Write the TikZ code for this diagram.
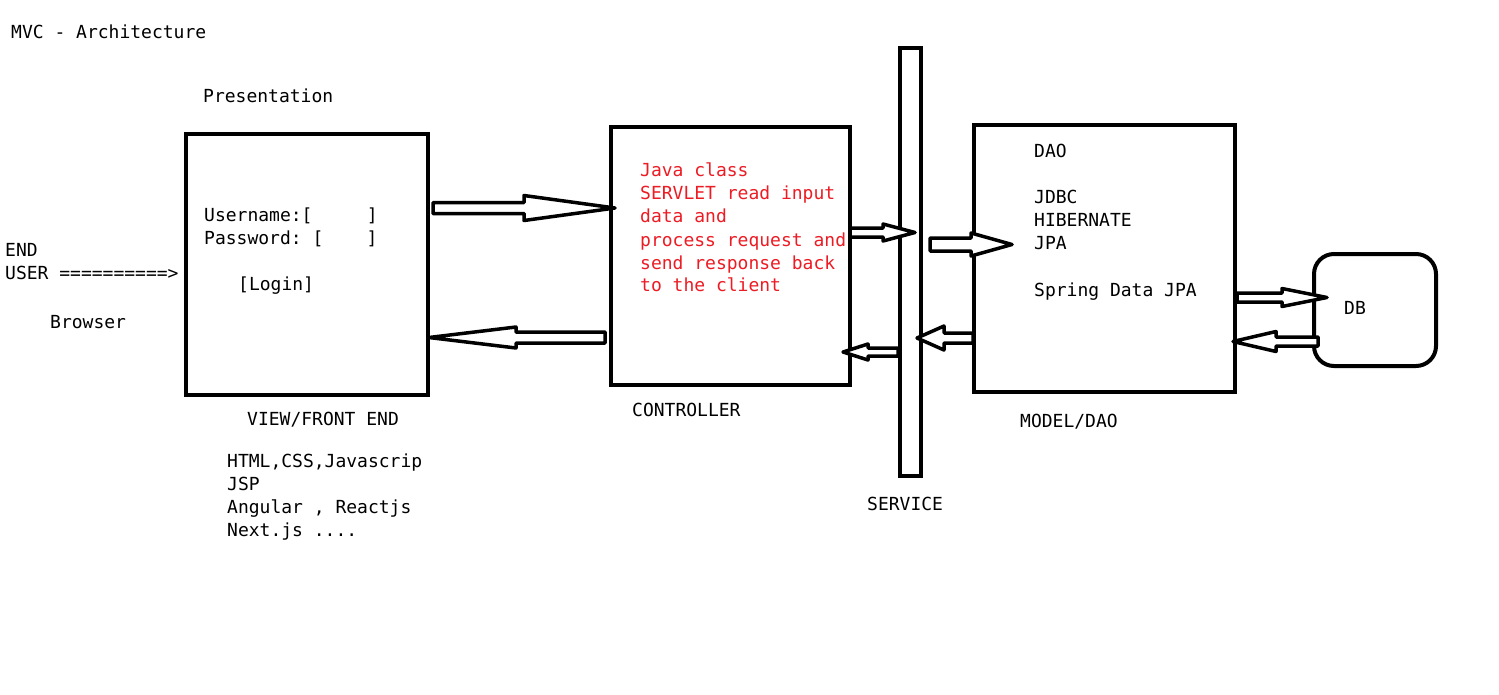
\documentclass[tikz,border=0pt]{standalone}
\usepackage{fontspec}
\setmonofont{DejaVu Sans Mono}
\usetikzlibrary{calc}
\definecolor{paintred}{RGB}{237,28,36}
\tikzset{
  box/.style={draw=black, line width=4pt, inner sep=0pt},
  lbl/.style={anchor=base west, inner sep=0pt, font=\fontsize{18}{23}\selectfont\ttfamily},
  redlbl/.style={lbl, text=paintred},
  blockarrow/.style={draw=black, line width=3.5pt, line join=round, fill=white},
}
\newcommand{\hollowarrow}[5]{%
  \draw[blockarrow] let \p1=(#1), \p2=(#2), \n1={sign(\x2-\x1)*#5} in
    ({\x1},{\y1+#3*1pt}) -- ({\x2-\n1*1pt},{\y1+#3*1pt}) -- ({\x2-\n1*1pt},{\y1+#4*1pt})
    -- ({\x2},{\y2}) -- ({\x2-\n1*1pt},{\y1-#4*1pt}) -- ({\x2-\n1*1pt},{\y1-#3*1pt})
    -- ({\x1},{\y1-#3*1pt}) -- cycle;}
\begin{document}
\begin{tikzpicture}[x=1pt,y=-1pt]
\useasboundingbox[fill=white] (0,0) rectangle (1499,694);

% boxes
\node[box, minimum width=242.5pt, minimum height=260.5pt] (view) at (306.75,264.25) {};
\node[box, minimum width=239.5pt, minimum height=258pt] (ctrl) at (730.25,256) {};
\node[box, minimum width=21pt, minimum height=428pt] (service) at (910,261.5) {};
\node[box, minimum width=260.5pt, minimum height=267pt] (dao) at (1104.25,258.5) {};
\node[box, rounded corners=20pt, minimum width=122pt, minimum height=112pt] (db) at (1375,310) {};

% texts
\node[lbl] (title) at (11,38) {MVC - Architecture};
\node[lbl] (pres) at (203,102) {Presentation};
\node[lbl] (user1) at (204,221) {Username:[\ \ \ \ \ ]};
\node[lbl] (user2) at (204,244) {Password: [\ \ \ \ ]};
\node[lbl] (login) at (238,290) {[Login]};
\node[lbl] (end) at (5,256) {END};
\node[lbl] (enduser) at (5,279) {USER ==========>};
\node[lbl] (browser) at (50,328) {Browser};
\node[lbl] (viewlbl) at (247,425) {VIEW/FRONT END};
\node[lbl] (tech1) at (227,467) {HTML,CSS,Javascrip};
\node[lbl] (tech2) at (227,490) {JSP};
\node[lbl] (tech3) at (227,513) {Angular , Reactjs};
\node[lbl] (tech4) at (227,536) {Next.js ....};

\node[redlbl] (r1) at (640,176) {Java class};
\node[redlbl] (r2) at (640,199) {SERVLET read input};
\node[redlbl] (r3) at (640,222) {data and};
\node[redlbl] (r4) at (640,246) {process request and};
\node[redlbl] (r5) at (640,269) {send response back};
\node[redlbl] (r6) at (640,291) {to the client};
\node[lbl] (ctrllbl) at (632,416) {CONTROLLER};

\node[lbl] (servlbl) at (867,510) {SERVICE};

\node[lbl] (d1) at (1034,157) {DAO};
\node[lbl] (d2) at (1034,203) {JDBC};
\node[lbl] (d3) at (1034,226) {HIBERNATE};
\node[lbl] (d4) at (1034,249) {JPA};
\node[lbl] (d5) at (1034,296) {Spring Data JPA};
\node[lbl] (daolbl) at (1020,427) {MODEL/DAO};
\node[lbl] (dblbl) at (1344,314) {DB};

% arrow end points
\coordinate (a1s) at (433,208);   \coordinate (a1e) at (615,208);
\coordinate (a2s) at (605,337.5); \coordinate (a2e) at (429,337.5);
\coordinate (a3s) at (850,232.5); \coordinate (a3e) at (915,232.5);
\coordinate (a4s) at (898,352);   \coordinate (a4e) at (843,352);
\coordinate (a5s) at (930,244.5); \coordinate (a5e) at (1012,244.5);
\coordinate (a6s) at (973,338);   \coordinate (a6e) at (917,338);
\coordinate (a7s) at (1237,297.5);\coordinate (a7e) at (1327,297.5);
\coordinate (a8s) at (1318,341.5);\coordinate (a8e) at (1233,341.5);

\hollowarrow{a1s}{a1e}{5.5}{12.5}{91}
\hollowarrow{a2s}{a2e}{5.5}{10.5}{87}
\hollowarrow{a3s}{a3e}{4.5}{8.5}{32}
\hollowarrow{a4s}{a4e}{4}{8}{25}
\hollowarrow{a5s}{a5e}{6.5}{11.5}{41}
\hollowarrow{a6s}{a6e}{5}{12}{27}
\hollowarrow{a7s}{a7e}{4.5}{9}{45}
\hollowarrow{a8s}{a8e}{4.5}{10}{43}
\end{tikzpicture}
\end{document}
